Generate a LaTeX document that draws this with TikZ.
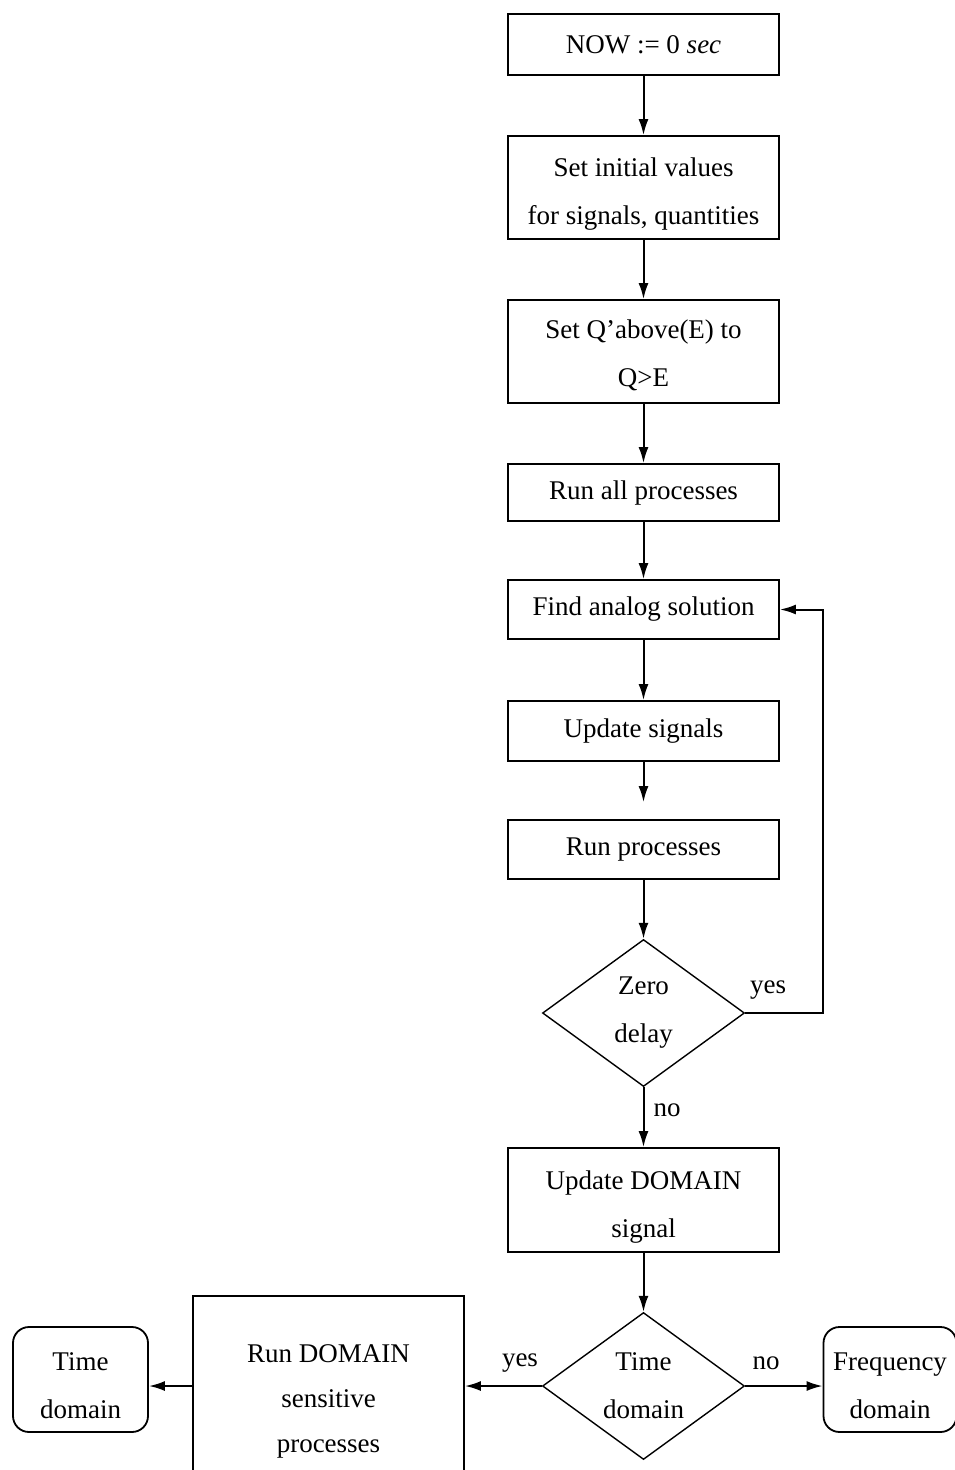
\documentclass[tikz,border=0pt]{standalone}
\usepackage{fontspec}
\setmainfont{Liberation Serif}
\usetikzlibrary{shapes.geometric,arrows.meta}
\newcommand\flstrut[1]{\rule{0pt}{#1}}
\tikzset{
  box/.style={draw, line width=1.8pt, minimum width=271pt, inner sep=0pt, align=center,
    font=\fontsize{27}{48}\selectfont},
  rbox/.style={box, rounded corners=16pt, minimum width=135pt, minimum height=105pt},
  dec/.style={draw, diamond, line width=1.4pt, minimum width=202pt, minimum height=147pt,
    aspect=1.374, inner sep=0pt, align=center, font=\fontsize{27}{48}\selectfont},
  flow/.style={line width=2pt, -{Latex[length=16pt,width=10pt]}},
  lbl/.style={font=\fontsize{27}{30}\selectfont, inner sep=0pt}
}
\begin{document}
\begin{tikzpicture}[x=1pt,y=-1pt]
\useasboundingbox (0,0) rectangle (954,1470);
\node[box, minimum height=61pt]  (b1) at (643.5,44.5)  {NOW := 0 \textit{sec}};
\node[box, minimum height=103pt] (b2) at (643.5,187.5) {\flstrut{32pt}Set initial values\\for signals, quantities};
\node[box, minimum height=103pt] (b3) at (643.5,351.5) {\flstrut{27pt}Set Q'above(E) to\\Q>E};
\node[box, minimum height=57pt]  (b4) at (643.5,492.5) {Run all processes};
\node[box, minimum height=59pt]  (b5) at (643.5,609.5) {Find analog solution};
\node[box, minimum height=60pt]  (b6) at (643.5,731)   {Update signals};
\node[box, minimum height=59pt]  (b7) at (643.5,849.5) {Run processes};
\node[dec] (d1) at (643.5,1013) {Zero\\delay};
\node[box, minimum height=104pt] (b8) at (643.5,1200)  {\flstrut{32pt}Update DOMAIN\\signal};
\node[dec] (d2) at (643.5,1386) {Time\\domain};
\node[box, minimum height=204pt, font=\fontsize{27}{45}\selectfont] (b9) at (328.5,1398)  {\flstrut{24pt}Run DOMAIN\\sensitive\\processes};
\node[rbox] (td) at (80.5,1379.5) {\flstrut{30pt}Time\\domain};
\node[rbox, minimum width=133pt] (fd) at (890,1379.5) {\flstrut{30pt}Frequency\\domain};

\draw[flow] (b1) -- (b2);
\draw[flow] (b2) -- (b3);
\draw[flow] (b3) -- (b4);
\draw[flow] (b4) -- (b5);
\draw[flow] (b5) -- (b6);
\draw[flow, shorten >=17pt] (b6) -- (b7);
\draw[flow] (b7) -- (d1);
\coordinate (loop) at (823,1013);
\draw[flow] (d1.east) -- (loop) |- (b5.east);
\draw[flow] (d1) -- (b8);
\draw[flow] (b8) -- (d2);
\draw[flow] (d2.west) -- (d2.west -| b9.east);
\draw[flow] (d2.west -| b9.west) -- (d2.west -| td.east);
\draw[flow] (d2.east) -- (d2.east -| fd.west);

\node[lbl] (yes1) at (768,990) {yes};
\node[lbl] (no1) at (667,1110) {no};
\node[lbl] (yes2) at (520,1363) {yes};
\node[lbl] (no2) at (766,1363) {no};
\end{tikzpicture}
\end{document}
